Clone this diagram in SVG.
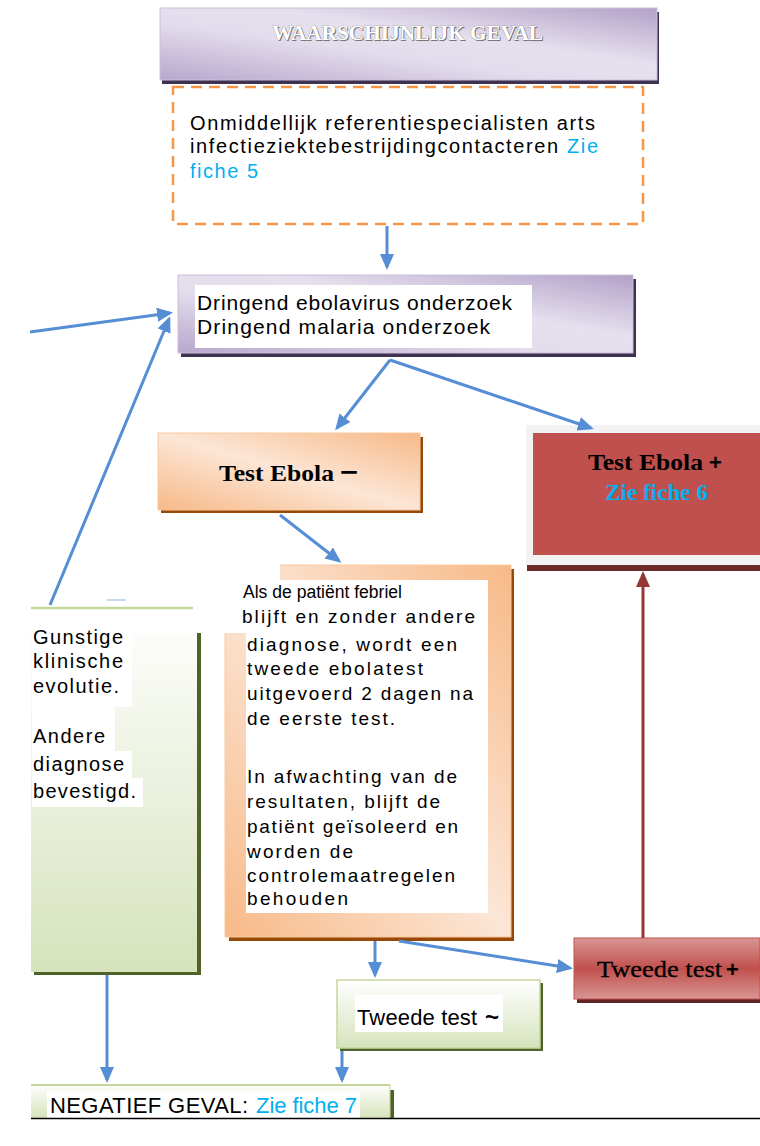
<svg xmlns="http://www.w3.org/2000/svg" width="760" height="1146" viewBox="0 0 760 1146">
<defs>
<style>
.sans{font-family:"Liberation Sans",Arial,sans-serif;fill:#000}
.serif{font-family:"Liberation Serif","Times New Roman",serif;fill:#000}
.b{font-weight:bold}
.lk{fill:#00B0F0}
.conn{stroke:#558ED5;stroke-width:3;fill:none;marker-end:url(#ab)}
.wbg{fill:#FFFFFF}
</style>
<linearGradient id="gPurple" x1="0" y1="1" x2="1" y2="0">
<stop offset="0" stop-color="#B7A7CD"/>
<stop offset="0.4" stop-color="#E3DCEC"/>
<stop offset="0.6" stop-color="#E6E0EE"/>
<stop offset="1" stop-color="#B2A1C8"/>
</linearGradient>
<linearGradient id="gOrange" x1="0" y1="1" x2="1" y2="0">
<stop offset="0" stop-color="#F7B987"/>
<stop offset="0.5" stop-color="#FCE6D6"/>
<stop offset="1" stop-color="#F7B987"/>
</linearGradient>
<linearGradient id="gGreen" x1="0" y1="0" x2="0" y2="1">
<stop offset="0" stop-color="#FFFFFF"/>
<stop offset="1" stop-color="#D6E3BC"/>
</linearGradient>
<linearGradient id="gRed" x1="0" y1="0" x2="0" y2="1">
<stop offset="0" stop-color="#D99694"/>
<stop offset="0.5" stop-color="#C0504D"/>
<stop offset="1" stop-color="#D99694"/>
</linearGradient>
<marker id="ab" markerUnits="userSpaceOnUse" markerWidth="16" markerHeight="14" refX="13" refY="7" orient="auto">
<path d="M0,0 L16,7 L0,14 z" fill="#558ED5"/>
</marker>
<marker id="ar" markerUnits="userSpaceOnUse" markerWidth="16" markerHeight="14" refX="13" refY="7" orient="auto">
<path d="M0,0 L16,7 L0,14 z" fill="#953735"/>
</marker>
</defs>
<rect width="760" height="1146" fill="#FFFFFF"/>

<g id="waarschijnlijk">
<rect x="162" y="12" width="497" height="72" fill="#3F3151"/>
<rect x="160" y="8" width="497" height="72" fill="url(#gPurple)" stroke="#CBC0DA" stroke-width="1"/>
<text x="273" y="41" class="serif b" font-size="21" textLength="271" lengthAdjust="spacingAndGlyphs" style="fill:#6F6F6F">WAARSCHIJNLIJK GEVAL</text>
<text x="272" y="40" class="serif b" font-size="21" textLength="271" lengthAdjust="spacingAndGlyphs" style="fill:#FFFFFF;stroke:#8C8C8C;stroke-width:0.6;paint-order:stroke">WAARSCHIJNLIJK GEVAL</text>
</g>

<g id="contact">
<rect x="173" y="87" width="470" height="137" fill="none" stroke="#F79646" stroke-width="2.5" stroke-dasharray="11 7"/>
<text x="190" y="130" class="sans" font-size="20" textLength="405">Onmiddellijk referentiespecialisten arts</text>
<text x="190" y="153" class="sans" font-size="20" textLength="408">infectieziektebestrijdingcontacteren <tspan class="lk">Zie</tspan></text>
<text x="190" y="178" class="sans lk" font-size="20" textLength="68">fiche 5</text>
</g>

<g id="onderzoek">
<rect x="181" y="279" width="455" height="78" fill="#3F3151"/>
<rect x="178" y="275" width="455" height="78" fill="url(#gPurple)" stroke="#CBC0DA" stroke-width="1"/>
<rect x="195" y="285" width="337" height="63" class="wbg"/>
<text x="197" y="310" class="sans" font-size="21" textLength="315">Dringend ebolavirus onderzoek</text>
<text x="197" y="334" class="sans" font-size="21" textLength="293">Dringend malaria onderzoek</text>
</g>

<g id="test-ebola-neg">
<rect x="161" y="437" width="262" height="76" fill="#984807"/>
<rect x="158" y="433" width="262" height="77" fill="url(#gOrange)" stroke="#F9C9A0" stroke-width="1"/>
<text x="219" y="481" class="serif b" font-size="23" textLength="115" lengthAdjust="spacingAndGlyphs">Test Ebola</text>
<text x="340" y="481" class="sans b" font-size="26" textLength="18" lengthAdjust="spacingAndGlyphs">−</text>
</g>

<g id="test-ebola-pos">
<rect x="526" y="425" width="234" height="140" fill="#F2F2F2"/>
<rect x="527" y="565" width="233" height="6" fill="#6E2A28"/>
<rect x="533" y="433" width="227" height="122" fill="#C0504D"/>
<text x="588" y="470" class="serif b" font-size="23" textLength="115" lengthAdjust="spacingAndGlyphs">Test Ebola</text>
<text x="709" y="470" class="sans b" font-size="22">+</text>
<text x="605" y="500" class="serif b lk" font-size="23" textLength="103" lengthAdjust="spacingAndGlyphs">Zie fiche 6</text>
</g>

<g id="gunstig">
<rect x="34" y="611" width="167" height="364" fill="#4F6228"/>
<rect x="31" y="607" width="166" height="365" fill="url(#gGreen)"/>
<line x1="31" y1="608" x2="193" y2="608" stroke="#C3D69B" stroke-width="2.5"/>
</g>

<g id="tweede-ebolatest">
<rect x="229" y="569" width="285" height="372" fill="#984807"/>
<rect x="225" y="565" width="286" height="372" fill="url(#gOrange)" stroke="#F9C9A0" stroke-width="1"/>
</g>

<rect x="31" y="610" width="249" height="23" class="wbg"/>
<rect x="220" y="560" width="60" height="50" class="wbg"/>

<g id="gunstig-text">
<rect x="32" y="627" width="100" height="80" class="wbg"/>
<rect x="32" y="706" width="83" height="46" class="wbg"/>
<rect x="32" y="751" width="100" height="28" class="wbg"/>
<rect x="32" y="778" width="111" height="29" class="wbg"/>
<text x="33" y="644" class="sans" font-size="20" textLength="90">Gunstige</text>
<text x="33" y="668" class="sans" font-size="20" textLength="90">klinische</text>
<text x="33" y="693" class="sans" font-size="20" textLength="86">evolutie.</text>
<text x="33" y="743" class="sans" font-size="20" textLength="72">Andere</text>
<text x="33" y="771" class="sans" font-size="20" textLength="91">diagnose</text>
<text x="33" y="798" class="sans" font-size="20" textLength="103">bevestigd.</text>
</g>

<g id="tweede-ebolatest-text">
<rect x="246" y="580" width="242" height="333" class="wbg"/>
<text x="243" y="598" class="sans" font-size="18" textLength="159" lengthAdjust="spacingAndGlyphs">Als de patiënt febriel</text>
<text x="242" y="623" class="sans" font-size="19" textLength="233">blijft en zonder andere</text>
<text x="247" y="651" class="sans" font-size="19" textLength="210">diagnose, wordt een</text>
<text x="247" y="675" class="sans" font-size="19" textLength="176">tweede ebolatest</text>
<text x="247" y="700" class="sans" font-size="19" textLength="226">uitgevoerd 2 dagen na</text>
<text x="247" y="725" class="sans" font-size="19" textLength="148">de eerste test.</text>
<text x="247" y="783" class="sans" font-size="19" textLength="210">In afwachting van de</text>
<text x="247" y="808" class="sans" font-size="19" textLength="193">resultaten, blijft de</text>
<text x="247" y="833" class="sans" font-size="19" textLength="211">patiënt geïsoleerd en</text>
<text x="247" y="858" class="sans" font-size="19" textLength="106">worden de</text>
<text x="247" y="882" class="sans" font-size="19" textLength="208">controlemaatregelen</text>
<text x="247" y="905" class="sans" font-size="19" textLength="101">behouden</text>
</g>

<g id="tweede-test-pos">
<rect x="577" y="941" width="183" height="62" fill="#632523"/>
<rect x="574" y="938" width="186" height="61" fill="url(#gRed)" stroke="#C0504D" stroke-width="1"/>
<text x="597" y="977" class="serif" font-size="23" textLength="125" lengthAdjust="spacingAndGlyphs" style="stroke:#000;stroke-width:0.3">Tweede test</text>
<text x="726" y="977" class="sans b" font-size="22">+</text>
</g>

<g id="tweede-test-tilde">
<rect x="340" y="983" width="203" height="68" fill="#4F6228"/>
<rect x="337" y="980" width="203" height="68" fill="url(#gGreen)" stroke="#C3D69B" stroke-width="1.5"/>
<rect x="355" y="995" width="148" height="37" class="wbg"/>
<text x="357" y="1025" class="sans" font-size="22" textLength="120">Tweede test</text>
<text x="485" y="1025" class="sans b" font-size="24">~</text>
</g>

<g id="negatief">
<rect x="390" y="1090" width="4" height="28" fill="#4F6228"/>
<rect x="31" y="1084" width="359" height="34" fill="url(#gGreen)"/>
<line x1="31" y1="1085" x2="390" y2="1085" stroke="#C3D69B" stroke-width="2"/>
<line x1="390" y1="1085" x2="390" y2="1118" stroke="#C3D69B" stroke-width="1"/>
<rect x="47" y="1091" width="313" height="27" class="wbg"/>
<text x="50" y="1113" class="sans" font-size="22" textLength="198">NEGATIEF GEVAL:</text>
<text x="256" y="1113" class="sans lk" font-size="22" textLength="101">Zie fiche 7</text>
<line x1="31" y1="1118.5" x2="760" y2="1118.5" stroke="#000" stroke-width="1.5"/>
</g>

<g id="connectors">
<line x1="387" y1="226" x2="387" y2="267" class="conn"/>
<line x1="30" y1="332" x2="170" y2="313" class="conn"/>
<line x1="50" y1="605" x2="169" y2="319" class="conn"/>
<line x1="390" y1="360" x2="337" y2="428" class="conn"/>
<line x1="390" y1="360" x2="591" y2="428" class="conn"/>
<line x1="280" y1="515" x2="339" y2="561" class="conn"/>
<line x1="375" y1="941" x2="375" y2="975" class="conn"/>
<line x1="399" y1="941" x2="570" y2="968" class="conn"/>
<line x1="107" y1="975" x2="107" y2="1080" class="conn"/>
<line x1="342" y1="1051" x2="342" y2="1080" class="conn"/>
<line x1="643" y1="938" x2="643" y2="574" stroke="#953735" stroke-width="3" marker-end="url(#ar)"/>
<line x1="107" y1="600" x2="126" y2="600" stroke="#8DB3E2" stroke-width="1"/>
</g>
</svg>
